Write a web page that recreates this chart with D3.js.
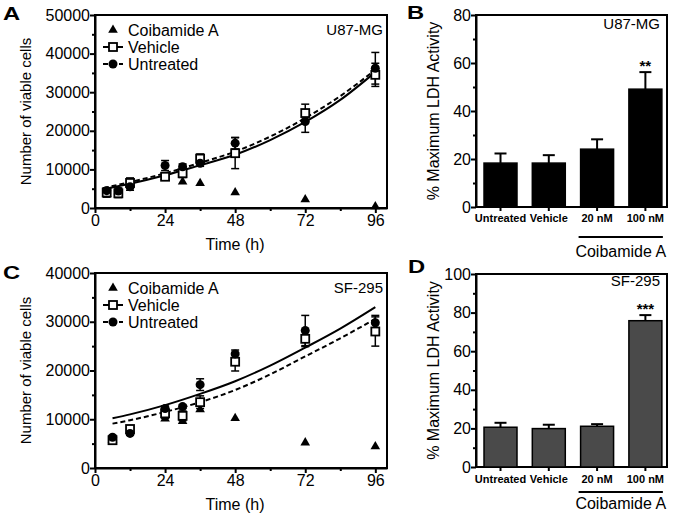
<!DOCTYPE html>
<html>
<head>
<meta charset="utf-8">
<script src="https://cdn.jsdelivr.net/npm/d3@7"></script>
<style>
  body { margin: 0; background: #fff; }
  svg { font-family: Arial, "Liberation Sans", sans-serif; }
  .axis path, .axis line { stroke: #000; stroke-width: 2; }
  .axis text { font-size: 16px; fill: #000; }
</style>
</head>
<body>
<div id="chart"></div>
<script>
// ---- data ----
// panel A: U87-MG viable cells
const timesA = [4, 8, 12, 24, 30, 36, 48, 72, 96];
const untreatedA = [4500, 4400, 5500, 11000, 10700, 11600, 16800, 22400, 36200];
const untreatedErrA = [700, 800, 900, 1300, 700, 800, 1500, 2800, 4100];
const vehicleA = [4000, 3800, 6500, 8100, 9000, 12800, 14200, 24600, 34500];
const vehicleErrA = [1200, 1100, 1300, 900, 1100, 1200, 4000, 2300, 3000];
const coibamideA = [3600, 4300, 6000, 8000, 6800, 6400, 4000, 2200, 400];
// fitted curves (sampled from the figure)
const fitTimesA = [3, 12, 24, 36, 48, 60, 72, 84, 96];
const fitVehicleA = [4900, 6300, 8500, 11100, 13800, 17600, 22300, 28000, 35200];
const fitUntreatedA = [5200, 6700, 9000, 11700, 14600, 18500, 23300, 29000, 35800];

// panel C: SF-295 viable cells
const timesC = [6, 12, 24, 30, 36, 48, 72, 96];
const untreatedC = [6300, 7100, 12200, 12600, 17100, 23400, 28200, 29800];
const untreatedErrC = [400, 400, 500, 400, 1200, 800, 3100, 1500];
const vehicleC = [5700, 8000, 11200, 10700, 13500, 21800, 26500, 28000];
const vehicleErrC = [400, 500, 1000, 1000, 1300, 1900, 1600, 3000];
const coibamideC = [5800, 7500, 10100, 9600, 12000, 10200, 5200, 4400];
const fitTimesC = [6, 12, 24, 36, 48, 60, 72, 84, 96];
const fitVehicleC = [10200, 11000, 12900, 15200, 17800, 21000, 24700, 28600, 33000];
const fitUntreatedC = [9100, 9800, 11500, 13500, 16000, 19200, 22900, 26600, 30600];

// panels B and D: LDH release
const ldhCategories = ['Untreated', 'Vehicle', '20 nM', '100 nM'];
const ldhB = [18.3, 18.3, 24.1, 49.1];
const ldhErrB = [4.0, 3.3, 4.1, 7.1];
const ldhD = [20.6, 19.9, 21.1, 75.8];
const ldhErrD = [2.3, 2.0, 1.1, 2.9];

const timeTicks = [0, 24, 48, 72, 96];
const timeMinor = [12, 36, 60, 84];

const svg = d3.select('#chart').append('svg')
    .attr('width', 675)
    .attr('height', 517);

function minorAxis(g, axis) {
    g.call(axis.tickSize(3).tickFormat(''));
    g.select('.domain').remove();
}

// ---- growth panel ----
function growthPanel(cfg) {
    const x = d3.scaleLinear().domain([0, 100]).range([cfg.left, cfg.right]);
    const y = d3.scaleLinear().domain([0, cfg.yMax]).range([cfg.bottom, cfg.top]);

    // frame
    svg.append('rect')
        .attr('x', cfg.left).attr('y', cfg.top)
        .attr('width', cfg.right - cfg.left).attr('height', cfg.bottom - cfg.top)
        .attr('fill', 'none').attr('stroke', '#000').attr('stroke-width', 2);

    svg.append('g').attr('class', 'axis')
        .attr('transform', `translate(0,${cfg.bottom})`)
        .call(d3.axisBottom(x).tickValues(timeTicks).tickSize(5).tickPadding(2).tickSizeOuter(0));
    svg.append('g').attr('class', 'axis')
        .attr('transform', `translate(0,${cfg.bottom})`)
        .call(g => minorAxis(g, d3.axisBottom(x).tickValues(timeMinor)));

    svg.append('g').attr('class', 'axis')
        .attr('transform', `translate(${cfg.left},0)`)
        .call(d3.axisLeft(y).ticks(cfg.yMax / 10000).tickFormat(d3.format('d'))
            .tickSize(5).tickPadding(0).tickSizeOuter(0));
    svg.append('g').attr('class', 'axis')
        .attr('transform', `translate(${cfg.left},0)`)
        .call(g => minorAxis(g, d3.axisLeft(y).tickValues(d3.range(5000, cfg.yMax, 10000))));

    // axis titles
    svg.append('text')
        .attr('x', (cfg.left + cfg.right) / 2 - 6).attr('y', cfg.bottom + 42)
        .attr('text-anchor', 'middle').style('font-size', '16px')
        .text('Time (h)');
    svg.append('text')
        .attr('transform', `translate(31,${(cfg.top + cfg.bottom) / 2}) rotate(-90)`)
        .attr('text-anchor', 'middle').style('font-size', '15px')
        .text('Number of viable cells');

    // fitted curves
    const line = d3.line().x(d => x(d[0])).y(d => y(d[1])).curve(d3.curveMonotoneX);
    svg.append('path')
        .datum(cfg.fitT.map((t, i) => [t, cfg.fitVeh[i]]))
        .attr('d', line).attr('fill', 'none').attr('stroke', '#000').attr('stroke-width', 2);
    svg.append('path')
        .datum(cfg.fitT.map((t, i) => [t, cfg.fitUnt[i]]))
        .attr('d', line).attr('fill', 'none').attr('stroke', '#000').attr('stroke-width', 2)
        .attr('stroke-dasharray', '5,3');

    // error bars
    function errorBars(vals, errs) {
        const g = svg.append('g').attr('stroke', '#000').attr('stroke-width', 1.5);
        cfg.times.forEach((t, i) => {
            const cx = x(t), y1 = y(vals[i] + errs[i]), y2 = y(vals[i] - errs[i]);
            g.append('line').attr('x1', cx).attr('x2', cx).attr('y1', y1).attr('y2', y2);
            g.append('line').attr('x1', cx - 4).attr('x2', cx + 4).attr('y1', y1).attr('y2', y1);
            g.append('line').attr('x1', cx - 4).attr('x2', cx + 4).attr('y1', y2).attr('y2', y2);
        });
    }
    errorBars(cfg.veh, cfg.vehErr);
    errorBars(cfg.unt, cfg.untErr);

    const tri = d3.symbol().type(d3.symbolTriangle).size(40);
    svg.append('g').selectAll('path')
        .data(cfg.times.map((t, i) => [t, cfg.coi[i]]))
        .join('path')
        .attr('transform', d => `translate(${x(d[0])},${y(d[1])})`)
        .attr('d', tri).attr('fill', '#000');

    svg.append('g').selectAll('rect')
        .data(cfg.times.map((t, i) => [t, cfg.veh[i]]))
        .join('rect')
        .attr('x', d => x(d[0]) - 4).attr('y', d => y(d[1]) - 4)
        .attr('width', 8).attr('height', 8)
        .attr('fill', '#fff').attr('stroke', '#000').attr('stroke-width', 1.8);

    svg.append('g').selectAll('circle')
        .data(cfg.times.map((t, i) => [t, cfg.unt[i]]))
        .join('circle')
        .attr('cx', d => x(d[0])).attr('cy', d => y(d[1])).attr('r', 4.5)
        .attr('fill', '#000');

    // legend
    const lx = cfg.left + 18, ly = cfg.top + 15;
    svg.append('path').attr('d', tri)
        .attr('transform', `translate(${lx},${ly})`).attr('fill', '#000');
    svg.append('line').attr('x1', lx - 10).attr('x2', lx + 10)
        .attr('y1', ly + 17).attr('y2', ly + 17).attr('stroke', '#000').attr('stroke-width', 2);
    svg.append('rect').attr('x', lx - 4).attr('y', ly + 13).attr('width', 8).attr('height', 8)
        .attr('fill', '#fff').attr('stroke', '#000').attr('stroke-width', 1.8);
    svg.append('line').attr('x1', lx - 10).attr('x2', lx + 10)
        .attr('y1', ly + 34).attr('y2', ly + 34).attr('stroke', '#000').attr('stroke-width', 2)
        .attr('stroke-dasharray', '5,3');
    svg.append('circle').attr('cx', lx).attr('cy', ly + 34).attr('r', 4.5).attr('fill', '#000');
    ['Coibamide A', 'Vehicle', 'Untreated'].forEach((t, i) => {
        svg.append('text').attr('x', lx + 15).attr('y', ly + 5.5 + i * 17)
            .style('font-size', '16px').text(t);
    });

    svg.append('text').attr('x', cfg.right - 4).attr('y', cfg.top + 20)
        .attr('text-anchor', 'end').style('font-size', '15px').text(cfg.cell);
}

// ---- LDH bar panel ----
function ldhPanel(cfg) {
    const x = d3.scaleBand().domain(ldhCategories)
        .range([cfg.left, cfg.right]).paddingInner(0.317).paddingOuter(0.136).align(0.61);
    const y = d3.scaleLinear().domain([0, cfg.yMax]).range([cfg.bottom, cfg.top]);

    svg.append('rect')
        .attr('x', cfg.left).attr('y', cfg.top)
        .attr('width', cfg.right - cfg.left).attr('height', cfg.bottom - cfg.top)
        .attr('fill', 'none').attr('stroke', '#000').attr('stroke-width', 2);

    svg.append('g').attr('class', 'axis')
        .attr('transform', `translate(${cfg.left},0)`)
        .call(d3.axisLeft(y).ticks(cfg.yMax / 20).tickSize(5).tickPadding(0).tickSizeOuter(0));
    svg.append('g').attr('class', 'axis')
        .attr('transform', `translate(${cfg.left},0)`)
        .call(g => minorAxis(g, d3.axisLeft(y).tickValues(d3.range(10, cfg.yMax, 20))));

    const xa = svg.append('g').attr('class', 'axis')
        .attr('transform', `translate(0,${cfg.bottom})`)
        .call(d3.axisBottom(x).tickSize(4).tickPadding(cfg.catPad).tickSizeOuter(0));
    xa.select('.domain').remove();
    xa.selectAll('text').style('font-size', '11px').style('font-weight', 'bold');

    svg.append('g').selectAll('line')
        .data(ldhCategories)
        .join('line')
        .attr('x1', d => x(d) + x.bandwidth() / 2).attr('x2', d => x(d) + x.bandwidth() / 2)
        .attr('y1', (d, i) => y(cfg.vals[i])).attr('y2', (d, i) => y(cfg.vals[i] + cfg.errs[i]))
        .attr('stroke', '#000').attr('stroke-width', 2);
    svg.append('g').selectAll('line')
        .data(ldhCategories)
        .join('line')
        .attr('x1', d => x(d) + x.bandwidth() / 2 - 6).attr('x2', d => x(d) + x.bandwidth() / 2 + 6)
        .attr('y1', (d, i) => y(cfg.vals[i] + cfg.errs[i])).attr('y2', (d, i) => y(cfg.vals[i] + cfg.errs[i]))
        .attr('stroke', '#000').attr('stroke-width', 2);

    svg.append('g').selectAll('rect')
        .data(ldhCategories)
        .join('rect')
        .attr('x', d => x(d)).attr('width', x.bandwidth())
        .attr('y', (d, i) => y(cfg.vals[i])).attr('height', (d, i) => cfg.bottom - y(cfg.vals[i]))
        .attr('fill', cfg.fill).attr('stroke', '#000').attr('stroke-width', 1.5);

    const last = ldhCategories[3];
    svg.append('text')
        .attr('x', x(last) + x.bandwidth() / 2)
        .attr('y', y(cfg.vals[3] + cfg.errs[3]) - 1.5)
        .attr('text-anchor', 'middle').style('font-size', '15px').style('font-weight', 'bold')
        .text(cfg.stars);

    // group bracket
    const gx1 = x('20 nM') - 2, gx2 = x('100 nM') + x.bandwidth() + 1;
    svg.append('line').attr('x1', gx1).attr('x2', gx2)
        .attr('y1', cfg.bottom + cfg.brY).attr('y2', cfg.bottom + cfg.brY)
        .attr('stroke', '#000').attr('stroke-width', 2);
    svg.append('text').attr('x', (gx1 + gx2) / 2).attr('y', cfg.bottom + cfg.brLabel)
        .attr('text-anchor', 'middle').style('font-size', '16px').text('Coibamide A');

    svg.append('text')
        .attr('transform', `translate(439,${(cfg.top + cfg.bottom) / 2}) rotate(-90)`)
        .attr('text-anchor', 'middle').style('font-size', '16px')
        .text('% Maximum LDH Activity');

    svg.append('text').attr('x', cfg.right - 7).attr('y', cfg.top + cfg.cellY)
        .attr('text-anchor', 'end').style('font-size', '15px').text(cfg.cell);
}

growthPanel({
    left: 95, right: 387, top: 15, bottom: 208, yMax: 50000, cell: 'U87-MG',
    times: timesA, unt: untreatedA, untErr: untreatedErrA, veh: vehicleA, vehErr: vehicleErrA,
    coi: coibamideA, fitT: fitTimesA, fitVeh: fitVehicleA, fitUnt: fitUntreatedA
});
growthPanel({
    left: 95, right: 387, top: 273, bottom: 468, yMax: 40000, cell: 'SF-295',
    times: timesC, unt: untreatedC, untErr: untreatedErrC, veh: vehicleC, vehErr: vehicleErrC,
    coi: coibamideC, fitT: fitTimesC, fitVeh: fitVehicleC, fitUnt: fitUntreatedC
});
ldhPanel({
    left: 476, right: 667, top: 15, bottom: 207, yMax: 80, cell: 'U87-MG',
    vals: ldhB, errs: ldhErrB, fill: '#000', stars: '**', catPad: 3, brY: 30, brLabel: 50, cellY: 14
});
ldhPanel({
    left: 476, right: 667, top: 274, bottom: 467, yMax: 100, cell: 'SF-295',
    vals: ldhD, errs: ldhErrD, fill: '#4a4a4a', stars: '***', catPad: 4, brY: 25, brLabel: 42, cellY: 12
});

// panel letters
[['A', 3, 20], ['B', 407, 19], ['C', 3, 279], ['D', 408, 273]].forEach(([t, px, py]) => {
    svg.append('text')
        .attr('transform', `translate(${px},${py}) scale(1.25,1)`)
        .style('font-size', '19px').style('font-weight', 'bold')
        .text(t);
});
</script>
</body>
</html>
